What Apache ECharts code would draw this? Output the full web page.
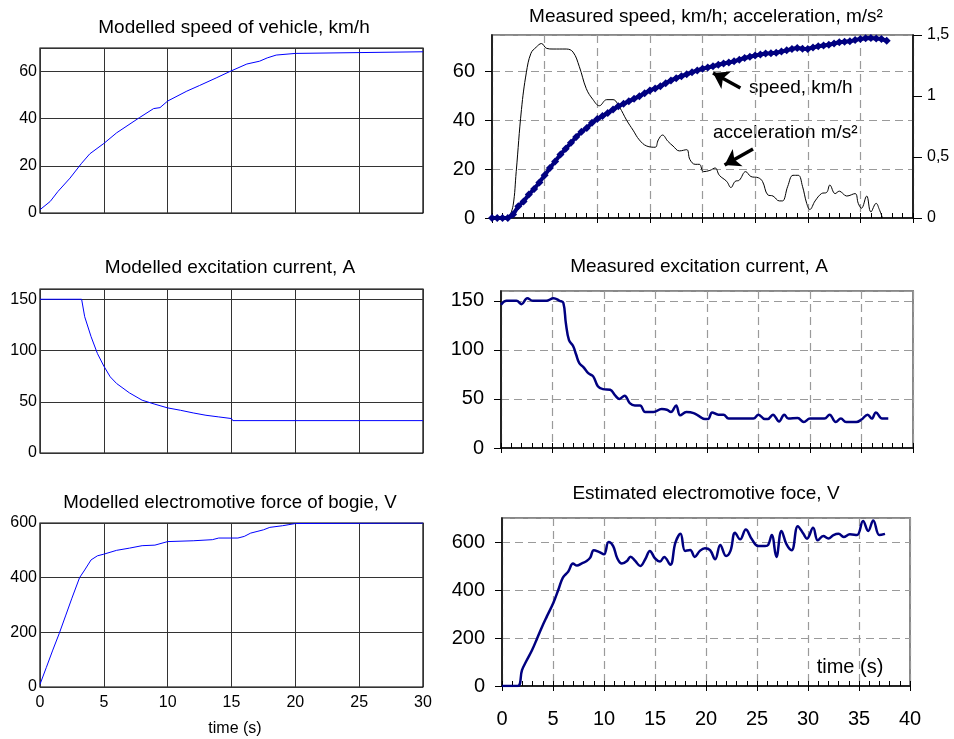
<!DOCTYPE html>
<html>
<head>
<meta charset="utf-8">
<script src="https://cdn.jsdelivr.net/npm/echarts@6/dist/echarts.min.js"></script>
<style>
  html, body { margin: 0; padding: 0; background: #fff; }
  #chart { width: 954px; height: 739px; }
</style>
</head>
<body>
<div id="chart"></div>
<script>
// ---------- data ----------

// Modelled speed of vehicle, km/h
const simSpeedTime  = [0, 0.8, 1.4, 2.35, 3.26, 3.9, 5, 6, 7.8, 8.9, 9.4, 10, 11.5, 12.5, 13.8, 14.9, 16.2, 17.2, 17.8, 18.5, 20, 20.1, 30];
const simSpeedValue = [1.4, 4.9, 9.1, 14.8, 21.1, 25.1, 29.5, 34, 40.5, 44.3, 44.7, 47.5, 51.7, 54.1, 57.3, 60.1, 63.2, 64.4, 65.8, 67.0, 67.7, 68.4, 68.4];

// Measured speed, km/h (every 0.5 s)
const speedTime  = [0, 0.5, 1, 1.5, 2, 2.5, 3, 3.5, 4, 4.5, 5, 5.5, 6, 6.5, 7, 7.5, 8, 8.5, 9, 9.5,
  10, 10.5, 11, 11.5, 12, 12.5, 13, 13.5, 14, 14.5, 15, 15.5, 16, 16.5, 17, 17.5, 18, 18.5, 19, 19.5,
  20, 20.5, 21, 21.5, 22, 22.5, 23, 23.5, 24, 24.5, 25, 25.5, 26, 26.5, 27, 27.5, 28, 28.5, 29, 29.5,
  30, 30.5, 31, 31.5, 32, 32.5, 33, 33.5, 34, 34.5, 35, 35.5, 36, 36.5, 37, 37.5];
const speedValue = [0, 0, 0, 0, 1.4, 4.8, 6.8, 9.6, 11.9, 14.6, 17.5, 20.5, 23.2, 26, 28.4, 30.8, 33.2, 35.3, 36.9, 39,
  40.6, 41.8, 43, 44.5, 45.8, 46.8, 47.8, 48.9, 49.9, 51.1, 52.3, 53.1, 54, 55.2, 56.4, 57.3, 58.1, 58.9, 59.7, 60.5,
  61.2, 61.7, 62.2, 62.8, 63.3, 63.7, 64.2, 64.9, 65.6, 66.1, 66.6, 67, 67.4, 67.5, 67.7, 68.2, 68.7, 69.3, 69.7, 69.4,
  69.3, 69.9, 70.4, 70.7, 71, 71.5, 72, 72.2, 72.4, 72.9, 73.4, 73.7, 73.8, 73.6, 73.4, 72.6];

// Measured acceleration, m/s²
const accelTime  = [1.6, 2.0, 2.3, 2.8, 3.26, 3.7, 4.2, 4.7, 5.2, 5.8, 7.06, 7.7, 8.3, 8.96, 9.6, 10.2, 10.9, 11.5, 12.1, 12.8,
  13.4, 14.0, 14.7, 15.5, 15.8, 16.2, 16.7, 17.2, 17.8, 18.5, 18.8, 19.3, 19.7, 20.1, 20.7, 21.2, 21.6, 22.3, 22.7, 23.1,
  23.5, 24.1, 24.6, 25.3, 25.7, 26.2, 26.7, 27.3, 27.6, 28.1, 28.6, 29.1, 29.5, 29.9, 30.2, 30.7, 31.3, 31.8, 32.1, 32.6,
  33.0, 33.7, 34.5, 34.8, 35.1, 35.6, 36.0, 36.5, 36.8, 37.1];
const accelValue = [0, 0.1, 0.38, 0.89, 1.19, 1.35, 1.40, 1.43, 1.39, 1.385, 1.385, 1.36, 1.24, 1.06, 0.97, 0.92, 0.97, 0.97, 0.91, 0.80,
  0.72, 0.64, 0.59, 0.58, 0.64, 0.68, 0.63, 0.59, 0.55, 0.56, 0.48, 0.44, 0.44, 0.38, 0.39, 0.41, 0.35, 0.30, 0.25, 0.30,
  0.31, 0.38, 0.34, 0.33, 0.30, 0.19, 0.18, 0.14, 0.14, 0.26, 0.35, 0.35, 0.26, 0.12, 0.07, 0.14, 0.20, 0.21, 0.27, 0.20,
  0.22, 0.18, 0.20, 0.12, 0.08, 0.18, 0.05, 0.12, 0.07, 0];

// Modelled excitation current, A
const simCurrentTime  = [0, 3.26, 3.5, 4, 4.5, 5, 5.5, 6, 7, 8, 9, 10, 11, 12, 13, 14, 15, 15.1, 30];
const simCurrentValue = [150, 150, 133, 113.5, 97, 84.8, 74.3, 67.8, 58.7, 51.5, 47.6, 44, 41.7, 39.1, 36.8, 35.2, 33.6, 31.6, 31.6];

// Measured excitation current, A
const currentTime  = [0, 0.55, 1.5, 2.0, 2.55, 3.1, 4.4, 5.1, 5.7, 6.05, 6.3, 6.6, 7.0, 7.3, 7.6, 8.0, 8.5, 8.95, 9.4, 9.9,
  10.6, 11.1, 11.5, 12.0, 12.5, 13.0, 13.5, 14.0, 14.8, 15.6, 16.1, 16.5, 17.0, 17.4, 18.0, 18.7, 19.3, 19.8, 20.1, 20.5,
  21.1, 21.6, 22.1, 24.5, 25.0, 25.6, 25.9, 26.4, 27.0, 27.5, 27.9, 28.8, 29.4, 30.0, 31.4, 31.9, 32.5, 33.0, 33.5, 34.5,
  35.0, 35.6, 36.0, 36.4, 37.0, 37.6];
const currentValue = [146, 150, 150, 146.6, 152.7, 150, 150, 152.7, 150, 148, 127, 110, 104, 95, 86.5, 82.5, 76, 73, 63, 60,
  59.4, 53.3, 50, 53.3, 45.8, 43.4, 43.4, 36.6, 36.6, 39.7, 39, 36.6, 43.4, 33.3, 36.6, 35.6, 32, 29.5, 29.5, 36.3,
  34, 34, 30, 30, 34, 29.5, 29.5, 34, 27, 34, 30, 30.5, 26.5, 30, 30, 34, 26.5, 30, 26.5, 26.5,
  29, 34, 30, 36.3, 30, 30];

// Modelled electromotive force of bogie, V
const simEmfTime  = [0, 0.5, 1, 1.5, 2, 2.5, 3.1, 3.5, 4, 4.5, 5, 6, 7, 8, 9, 10, 12, 13.5, 14, 15.5, 16, 16.5, 17, 17.5, 18, 19, 19.5, 20, 30];
const simEmfValue = [10, 72, 135, 195, 260, 325, 400, 428, 465, 480, 486, 500, 508, 517, 519, 532, 535, 539, 545, 545, 551, 563, 569, 575, 584, 590, 594, 598, 600];

// Estimated electromotive force, V
const emfTime  = [0, 1.53, 1.96, 2.4, 2.94, 3.43, 3.92, 4.4, 5.06, 5.55, 5.97, 6.5, 6.96, 7.35, 7.8, 8.3, 8.65, 9.0, 9.5, 10.0,
  10.45, 10.9, 11.3, 11.75, 12.25, 12.6, 13.06, 13.55, 14.04, 14.5, 15.0, 15.5, 15.9, 16.5, 17.0, 17.5, 17.95, 18.45, 18.9, 19.4,
  19.9, 20.4, 20.9, 21.4, 21.97, 22.4, 22.85, 23.35, 23.9, 24.5, 25.1, 25.8, 26.1, 26.45, 26.9, 27.4, 27.9, 28.4, 29.0, 29.55,
  29.9, 30.5, 30.96, 31.5, 32.0, 32.5, 33.0, 33.5, 34.1, 34.8, 35.4, 35.9, 36.4, 37.0, 37.55];
const emfValue = [0, 0, 66, 105, 149, 197, 246, 290, 349, 404, 452, 477, 510, 502, 510, 521, 535, 566, 559, 549,
  600, 583, 532, 510, 521, 539, 521, 500, 528, 563, 532, 519, 538, 505, 597, 634, 563, 567, 538, 563,
  574, 566, 528, 588, 542, 563, 639, 611, 652, 611, 583, 583, 588, 629, 538, 646, 590, 566, 666, 634,
  614, 659, 607, 625, 615, 629, 634, 621, 632, 629, 687, 646, 690, 629, 634];

// arrows of the annotations (tail -> head), in time / km/h units
const speedArrow = [[23.6, 53.3], [21.0, 59.4]];
const accelArrow = [[24.8, 28.3], [22.1, 21.7]];

// ---------- chart ----------
const FONT = "'Liberation Sans', Arial, Helvetica, sans-serif";
const NAVY = '#000080';
const zip = (xs, ys) => xs.map((x, i) => [x, ys[i]]);

// matlab-like axes (left column)
function matlabX(grid, showLabels) {
  return {
    type: 'value', gridIndex: grid, min: 0, max: 30, interval: 5,
    axisLine: { show: false, onZero: false }, axisTick: { show: false },
    splitLine: { show: true, lineStyle: { color: '#333', width: 1 } },
    axisLabel: { show: showLabels, color: '#000', fontSize: 16, fontFamily: FONT, margin: 8 }
  };
}
function matlabY(grid, max, interval, showMax) {
  return {
    type: 'value', gridIndex: grid, min: 0, max: max, interval: interval,
    axisLine: { show: false, onZero: false }, axisTick: { show: false },
    splitLine: { show: true, lineStyle: { color: '#333', width: 1 } },
    axisLabel: { color: '#000', fontSize: 16, fontFamily: FONT, margin: 3, showMaxLabel: !!showMax }
  };
}

// excel-like axes (right column)
const dashed = { color: '#9a9a9a', type: [8, 5], width: 1.2 };
function excelX(grid, showLabels) {
  return {
    type: 'value', gridIndex: grid, min: 0, max: 40, interval: 5,
    axisLine: { show: true, onZero: false, lineStyle: { color: '#000', width: 1.5 } },
    axisTick: { show: true, inside: true, length: 5, lineStyle: { color: '#000' } },
    minorTick: { show: true, splitNumber: 5, length: 5, lineStyle: { color: '#000' } },
    splitLine: { show: true, lineStyle: dashed },
    axisLabel: { show: showLabels, color: '#000', fontSize: 20, fontFamily: FONT, margin: 23 }
  };
}
// outer half of the major ticks
function excelTickX(grid) {
  return {
    type: 'value', gridIndex: grid, position: 'bottom', min: 0, max: 40, interval: 5,
    axisLine: { show: false, onZero: false },
    axisTick: { show: true, length: 5, lineStyle: { color: '#000' } },
    splitLine: { show: false }, axisLabel: { show: false }
  };
}
function excelY(grid, max, interval) {
  return {
    type: 'value', gridIndex: grid, position: 'left', min: 0, max: max, interval: interval,
    axisLine: { show: true, onZero: false, lineStyle: { color: '#000', width: 1.5 } },
    axisTick: { show: true, length: 7, lineStyle: { color: '#000' } },
    splitLine: { show: true, lineStyle: dashed },
    axisLabel: { color: '#000', fontSize: 20, fontFamily: FONT, margin: 17, showMaxLabel: false }
  };
}

const matlabGrid = { show: true, borderColor: '#000', borderWidth: 1.2, backgroundColor: '#fff' };
const excelGrid = { show: true, borderColor: '#888', borderWidth: 2, backgroundColor: '#fff' };

function text(x, y, str, size, align) {
  return {
    type: 'text', x: x, y: y, silent: true,
    style: { text: str, fill: '#000', fontSize: size, fontFamily: FONT, align: align || 'center', verticalAlign: 'middle' }
  };
}

const chart = echarts.init(document.getElementById('chart'));
chart.setOption({
  animation: false,
  backgroundColor: '#fff',
  grid: [
    Object.assign({ left: 40, top: 48, width: 383, height: 165 }, matlabGrid),
    Object.assign({ left: 492, top: 35, width: 421, height: 183 }, excelGrid),
    Object.assign({ left: 40, top: 289, width: 383, height: 164 }, matlabGrid),
    Object.assign({ left: 501, top: 291, width: 412, height: 157 }, excelGrid),
    Object.assign({ left: 40, top: 523, width: 383, height: 164 }, matlabGrid),
    Object.assign({ left: 502, top: 518, width: 408, height: 168 }, excelGrid)
  ],
  xAxis: [
    matlabX(0, false),   // 0
    excelX(1, false),    // 1
    excelTickX(1),       // 2
    matlabX(2, false),   // 3
    excelX(3, false),    // 4
    excelTickX(3),       // 5
    matlabX(4, true),    // 6
    excelX(5, true),     // 7
    excelTickX(5)        // 8
  ],
  yAxis: [
    matlabY(0, 70, 20),  // 0
    excelY(1, 75, 20),   // 1
    {                    // 2 : acceleration
      type: 'value', gridIndex: 1, position: 'right', min: 0, max: 1.5, interval: 0.5,
      axisLine: { show: true, onZero: false, lineStyle: { color: '#000', width: 1.5 } },
      axisTick: { show: true, length: 9, lineStyle: { color: '#000' } },
      splitLine: { show: false },
      axisLabel: { color: '#000', fontSize: 16, fontFamily: FONT, margin: 14,
        formatter: v => String(v).replace('.', ',') }
    },
    matlabY(2, 160, 50), // 3
    excelY(3, 160, 50),  // 4
    matlabY(4, 600, 200, true), // 5
    excelY(5, 700, 200)  // 6
  ],
  series: [
    { type: 'line', xAxisIndex: 0, yAxisIndex: 0, data: zip(simSpeedTime, simSpeedValue),
      symbol: 'none', lineStyle: { color: '#0000ff', width: 1 } },
    { type: 'line', xAxisIndex: 1, yAxisIndex: 2, data: zip(accelTime, accelValue), z: 2,
      symbol: 'none', smooth: 0.4, lineStyle: { color: '#000', width: 1 } },
    { type: 'line', xAxisIndex: 1, yAxisIndex: 1, data: zip(speedTime, speedValue), z: 3,
      symbol: 'diamond', symbolSize: 8, itemStyle: { color: NAVY },
      lineStyle: { color: NAVY, width: 4 },
      markLine: {
        silent: true, symbol: ['none', 'arrow'], symbolSize: 15,
        label: { show: false },
        lineStyle: { color: '#000', width: 3.5, type: 'solid' },
        data: [
          [{ coord: speedArrow[0] }, { coord: speedArrow[1] }],
          [{ coord: accelArrow[0] }, { coord: accelArrow[1] }]
        ]
      } },
    { type: 'line', xAxisIndex: 3, yAxisIndex: 3, data: zip(simCurrentTime, simCurrentValue),
      symbol: 'none', lineStyle: { color: '#0000ff', width: 1 } },
    { type: 'line', xAxisIndex: 4, yAxisIndex: 4, data: zip(currentTime, currentValue),
      symbol: 'none', smooth: 0.4, lineStyle: { color: NAVY, width: 2.5 } },
    { type: 'line', xAxisIndex: 6, yAxisIndex: 5, data: zip(simEmfTime, simEmfValue),
      symbol: 'none', lineStyle: { color: '#0000ff', width: 1 } },
    { type: 'line', xAxisIndex: 7, yAxisIndex: 6, data: zip(emfTime, emfValue),
      symbol: 'none', smooth: 0.4, lineStyle: { color: NAVY, width: 2.5 } }
  ],
  graphic: [
    text(234, 28, 'Modelled speed of vehicle, km/h', 19),
    text(706, 17, 'Measured speed, km/h; acceleration, m/s²', 19),
    text(230, 268, 'Modelled excitation current, A', 19),
    text(699, 267, 'Measured excitation current, A', 19),
    text(230, 503, 'Modelled electromotive force of bogie, V', 18.7),
    text(706, 494, 'Estimated electromotive foce, V', 19),
    text(235, 729, 'time (s)', 16),
    text(850, 667, 'time (s)', 20),
    text(749, 88, 'speed, km/h', 19, 'left'),
    text(713, 133, 'acceleration m/s²', 19, 'left')
  ]
});
</script>
</body>
</html>
